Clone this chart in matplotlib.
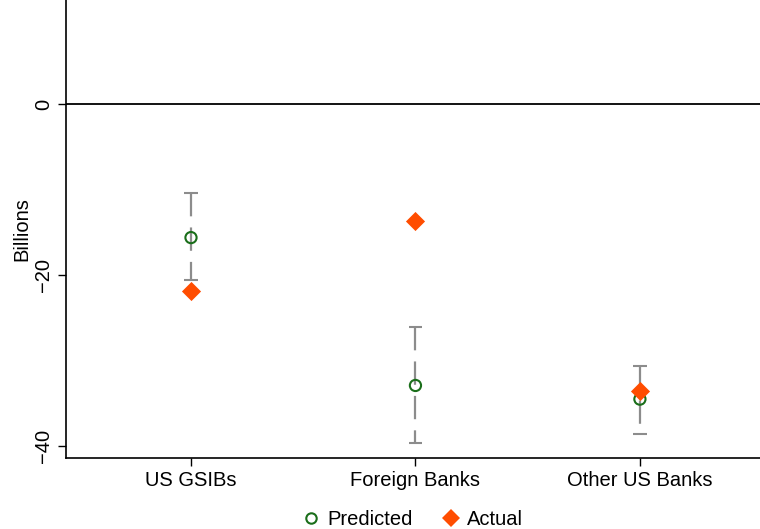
import matplotlib
matplotlib.use("Agg")
import matplotlib.pyplot as plt
from matplotlib.lines import Line2D

plt.rcParams['font.family'] = ['Liberation Sans', 'DejaVu Sans']

categories = ["US GSIBs", "Foreign Banks", "Other US Banks"]
predicted = [-15.6, -32.9, -34.5]
ci_low = [-20.6, -39.6, -38.6]
ci_high = [-10.4, -26.1, -30.6]
actual = [-21.8, -13.7, -33.6]

fig = plt.figure(figsize=(7.6, 5.29), dpi=100)
ax = fig.add_axes([0.0868, 0.134, 0.9132, 0.866])

x = list(range(1, len(categories) + 1))

ax.axhline(0, color='black', lw=1.3, zorder=1)

# confidence intervals
for xi, lo, hi in zip(x, ci_low, ci_high):
    ax.plot([xi, xi], [hi, lo], color='#8c8c8c', lw=1.6,
            dashes=(10.5, 5), zorder=2)
    for yv in (lo, hi):
        ax.plot([xi - 0.03, xi + 0.03], [yv, yv], color='#8c8c8c',
                lw=1.5, solid_capstyle='butt', zorder=2)

ax.scatter(x, predicted, s=65, facecolors='none', edgecolors='#1a6e1a',
           linewidths=1.5, zorder=3)
ax.scatter(x, actual, s=95, marker='D', color='#ff4d00', zorder=4,
           linewidths=0)

ax.set_xlim(0.443, 3.535)
ax.set_ylim(-41.4, 12.2)
ax.set_xticks(x)
ax.set_xticklabels(categories, fontsize=14.5)
ax.set_yticks([0, -20, -40])
ax.set_yticklabels(['0', '\u221220', '\u221240'], fontsize=14.5,
                   rotation=90, va='center')
ax.set_ylabel('Billions', fontsize=14.5, labelpad=2)
ax.tick_params(axis='both', direction='out', length=6, width=1.0)
for side in ('top', 'right'):
    ax.spines[side].set_visible(False)
for side in ('left', 'bottom'):
    ax.spines[side].set_linewidth(1.2)

handles = [
    Line2D([], [], marker='o', ls='none', markerfacecolor='none',
           markeredgecolor='#1a6e1a', markeredgewidth=1.5, markersize=7.5),
    Line2D([], [], marker='D', ls='none', color='#ff4d00',
           markeredgewidth=0, markersize=9),
]
fig.legend(handles, ['Predicted', 'Actual'], loc='lower center',
           bbox_to_anchor=(0.541, -0.034), ncol=2, frameon=False,
           fontsize=14.5, handletextpad=0.2, columnspacing=1.3,
           handlelength=1.2)

fig.savefig('out.png', dpi=100)
